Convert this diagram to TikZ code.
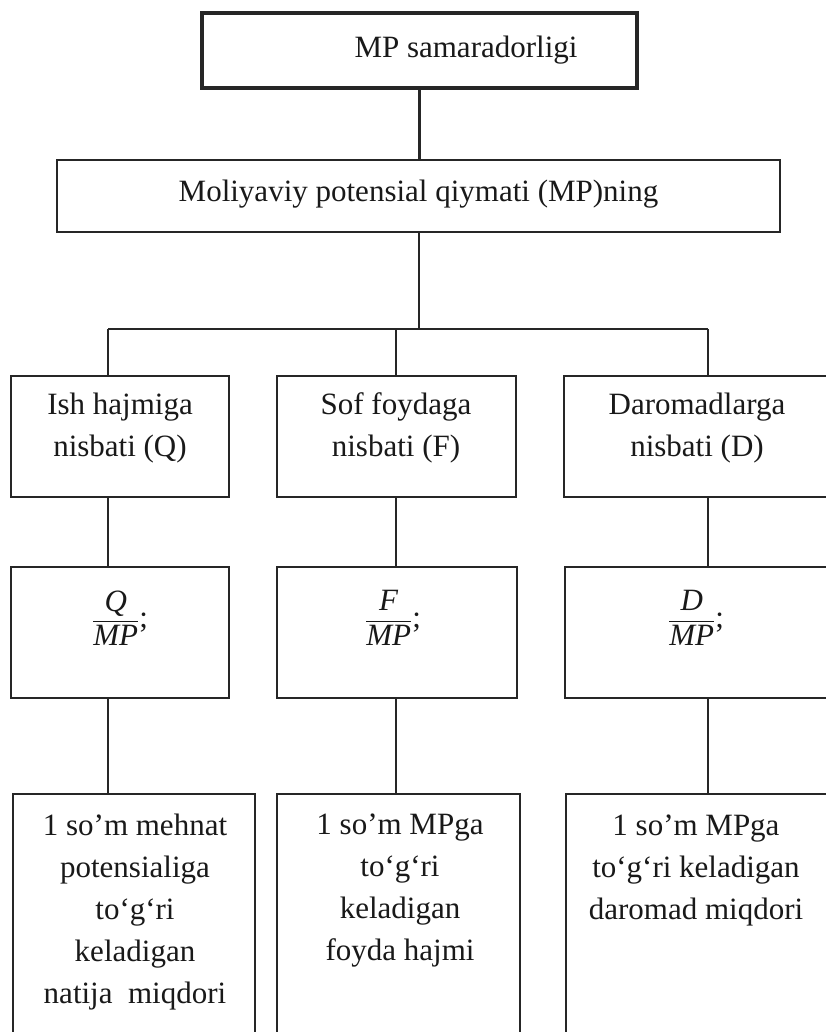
\documentclass[tikz,border=0pt]{standalone}
\usepackage{fontspec}
\usepackage{amsmath}
\setmainfont{Liberation Serif}
\begin{document}
\begin{tikzpicture}[x=1pt,y=-1pt,
  box/.style={draw=black!85, line width=2.5pt, rectangle, inner sep=0pt, fill=white},
  topbox/.style={box, line width=4.5pt},
  txt/.style={font=\fontsize{31}{42}\selectfont, align=center, inner sep=0pt, text=black!90},
  conn/.style={draw=black!85, line width=2.5pt}]
\path[use as bounding box] (0,0) rectangle (826,1032);
\clip (0,0) rectangle (826,1032);
\fill[white] (0,0) rectangle (826,1032);

% top and middle boxes
\node[topbox, minimum width=435pt, minimum height=75pt] (top) at (419.5,50.5) {};
\node[txt] (toptxt) at (466,50) {MP samaradorligi};
\node[box, minimum width=723pt, minimum height=72pt] (mid) at (418.5,196) {};
\node[txt] (midtxt) at (418.5,194) {Moliyaviy potensial qiymati (MP)ning};

% row 1
\node[box, minimum width=218pt, minimum height=121pt] (a1) at (120,436.5) {};
\node[box, minimum width=239pt, minimum height=121pt] (a2) at (396.5,436.5) {};
\node[box, minimum width=276pt, minimum height=121pt] (a3) at (702,436.5) {};
\node[txt] (a1t) at (120,428) {Ish hajmiga\\nisbati (Q)};
\node[txt] (a2t) at (396,428) {Sof foydaga\\nisbati (F)};
\node[txt] (a3t) at (697,428) {Daromadlarga\\nisbati (D)};

% row 2
\node[box, minimum width=218pt, minimum height=131pt] (b1) at (120,632.5) {};
\node[box, minimum width=240pt, minimum height=131pt] (b2) at (397,632.5) {};
\node[box, minimum width=275pt, minimum height=131pt] (b3) at (702.5,632.5) {};
\node[txt] (b1t) at (120,618) {$\dfrac{\textit{Q}}{\textit{MP}}$;};
\node[txt] (b2t) at (393,618) {$\dfrac{\textit{F}}{\textit{MP}}$;};
\node[txt] (b3t) at (696,618) {$\dfrac{\textit{D}}{\textit{MP}}$;};

% row 3
\node[box, minimum width=242pt, minimum height=266pt] (d1) at (134,927) {};
\node[box, minimum width=243pt, minimum height=266pt] (d2) at (398.5,927) {};
\node[box, minimum width=274pt, minimum height=266pt] (d3) at (703,927) {};
\node[txt] (d1t) at (135,912) {1 so’m mehnat\\potensialiga\\to‘g‘ri\\keladigan\\natija\ \ miqdori};
\node[txt] (d2t) at (400,891) {1 so’m MPga\\to‘g‘ri\\keladigan\\foyda hajmi};
\node[txt] (d3t) at (696,870) {1 so’m MPga\\to‘g‘ri keladigan\\daromad miqdori};

% connectors
\coordinate (c0) at (419,329);
\coordinate (c1) at (108,329);
\coordinate (c2) at (396,329);
\coordinate (c3) at (708,329);
\draw[conn] (top.south) -- (top.south |- mid.north);
\draw[conn] (mid.south -| c0) -- (c0);
\draw[conn] (c1) -- (c3);
\draw[conn] (c1) -- (c1 |- a1.north);
\draw[conn] (c2) -- (c2 |- a2.north);
\draw[conn] (c3) -- (c3 |- a3.north);
\draw[conn] (c1 |- a1.south) -- (c1 |- b1.north);
\draw[conn] (c2 |- a2.south) -- (c2 |- b2.north);
\draw[conn] (c3 |- a3.south) -- (c3 |- b3.north);
\draw[conn] (c1 |- b1.south) -- (c1 |- d1.north);
\draw[conn] (c2 |- b2.south) -- (c2 |- d2.north);
\draw[conn] (c3 |- b3.south) -- (c3 |- d3.north);
\end{tikzpicture}
\end{document}
